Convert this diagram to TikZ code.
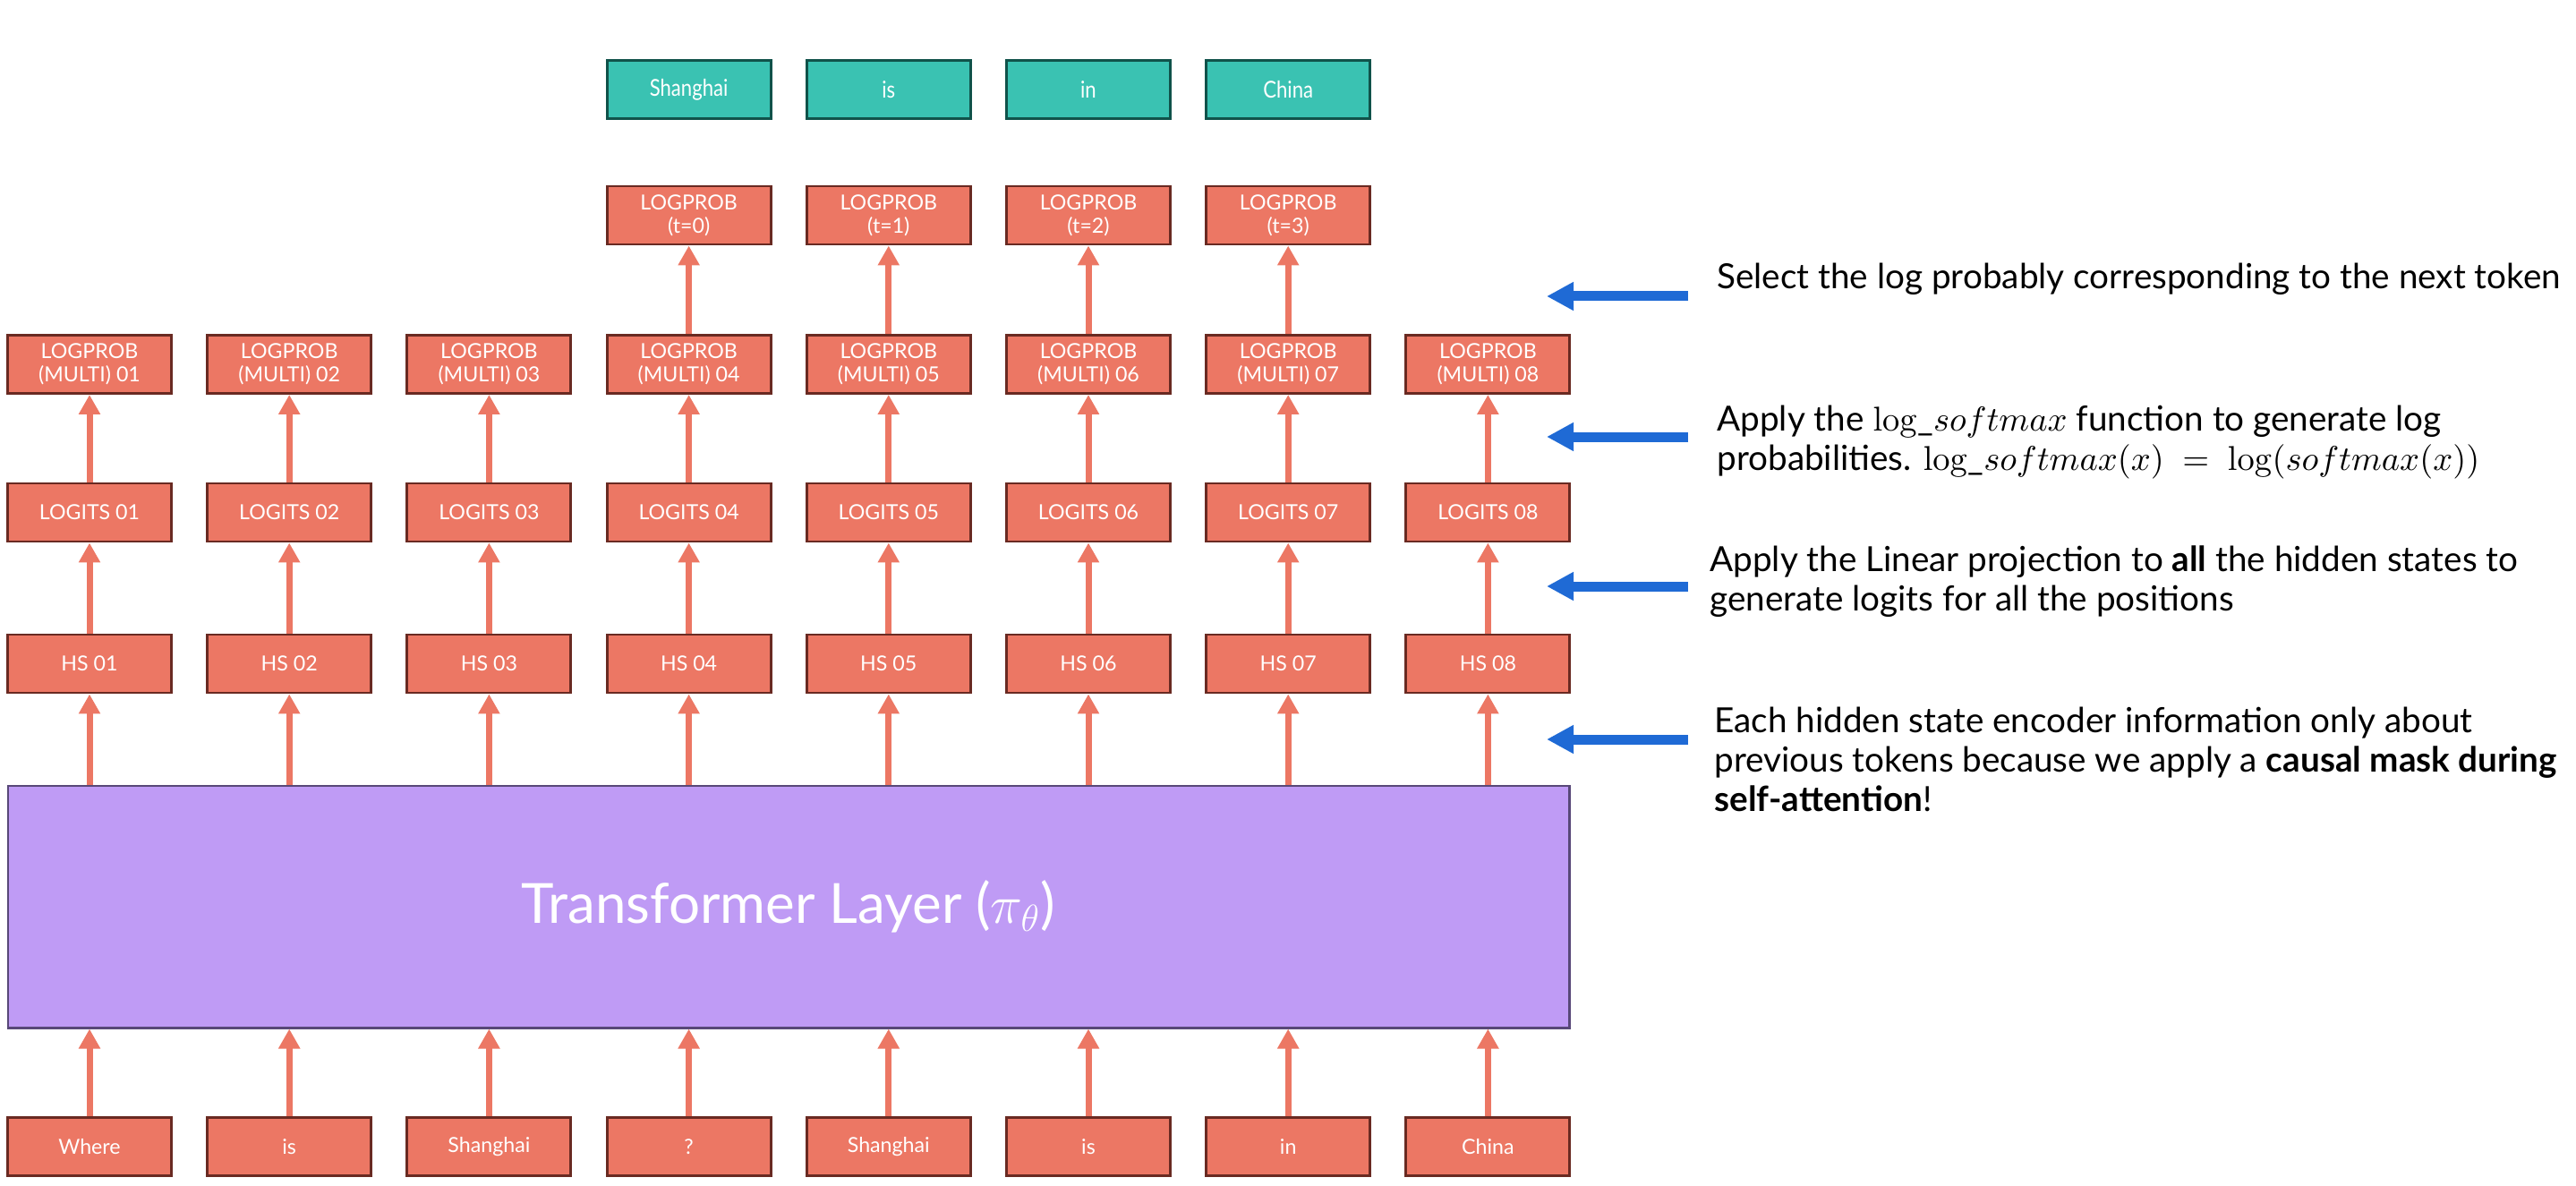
\documentclass[tikz,border=0pt]{standalone}
\usepackage[no-math]{fontspec}
\setmainfont{Lato}
\newfontfamily\notefont{Lato}
\newfontfamily\narrowfont[FakeStretch=0.85]{Lato}
\usetikzlibrary{arrows.meta,positioning}
\definecolor{r1}{RGB}{236,119,100}
\definecolor{r1d}{RGB}{105,42,34}
\definecolor{g1}{RGB}{58,194,178}
\definecolor{g1d}{RGB}{16,82,74}
\definecolor{p1}{RGB}{191,155,245}
\definecolor{p1d}{RGB}{88,72,120}
\definecolor{b1}{RGB}{31,106,213}
\tikzset{%
  tok/.style = { draw=r1d, fill=r1, line width=0.85pt, minimum width=1.83cm, minimum height=0.65cm, inner sep=0pt, text=white, align=center, font=\fontsize{6.6}{7.3}\selectfont },
  outtok/.style = { tok, draw=g1d, fill=g1, font=\narrowfont\fontsize{7.4}{8}\selectfont },
  layer/.style = { draw=p1d, fill=p1, line width=0.85pt, minimum width=17.44cm, minimum height=2.70cm, text=white, font=\fontsize{17.6}{20}\selectfont },
  up/.style = { draw=r1, line width=0.7mm, -{Triangle[length=2.2mm,width=2.3mm]} },
  back/.style = { draw=b1, line width=1.1mm, -{Triangle[length=3mm,width=3mm]} },
  note/.style = { anchor=west, align=left, font=\notefont\fontsize{11}{12.5}\selectfont }
}
\begin{document}
\begin{tikzpicture}
  \useasboundingbox (0,0) rectangle (28.78,13.24);

  % Transformer block
  \node[layer] (tf) at (8.81,3.11) {Transformer Layer ($\pi_\theta$)};

  % Columns: input -> layer -> hidden states -> logits -> logprobs
  \foreach \i/\w in {1/Where,2/is,3/Shanghai,4/?,5/Shanghai,6/is,7/in,8/China} {
    \pgfmathsetmacro{\cx}{1.0+(\i-1)*2.232}
    \node[tok] (in\i) at (\cx,0.43) {\w};
    \node[tok] (hs\i) at (\cx,5.825) {HS 0\i};
    \node[tok] (lg\i) at (\cx,7.515) {LOGITS 0\i};
    \node[tok] (lp\i) at (\cx,9.17) {LOGPROB\\(MULTI) 0\i};
    \draw[up] (in\i) -- (in\i |- tf.south);
    \draw[up] (hs\i |- tf.north) -- (hs\i);
    \draw[up] (hs\i) -- (lg\i);
    \draw[up] (lg\i) -- (lp\i);
  }

  % Selected logprobs and next tokens
  \foreach \i/\w [evaluate=\i as \t using int(\i-4)] in {4/Shanghai,5/is,6/in,7/China} {
    \node[tok] (lt\i) at (lp\i |- 0,10.835) {LOGPROB\\(t=\t)};
    \node[outtok] (out\i) at (lp\i |- 0,12.24) {\w};
    \draw[up] (lp\i) -- (lt\i);
  }

  % Notes
  \coordinate (s1) at (18.86,9.93);
  \coordinate (s2) at (18.86,8.36);
  \coordinate (s3) at (18.86,6.69);
  \coordinate (s4) at (18.86,4.98);
  \foreach \s in {s1,s2,s3,s4} {
    \draw[back] (\s) -- ++(-1.58,0);
  }

  \node[note] (n1) at (19.06,10.12) {Select the log probably corresponding to the next token};
  \node[note] (n2) at (19.06,8.30) {Apply the $\mathrm{log}\_softmax$ function to generate log\\probabilities. $\mathrm{log}\_softmax(x)\ =\ \mathrm{log}(softmax(x))$};
  \node[note] (n3) at (18.98,6.74) {Apply the Linear projection to \textbf{all} the hidden states to\\generate logits for all the positions};
  \node[note] (n4) at (19.03,4.76) {Each hidden state encoder information only about\\previous tokens because we apply a \textbf{causal mask during}\\\textbf{self-attention}!};

\end{tikzpicture}
\end{document}
